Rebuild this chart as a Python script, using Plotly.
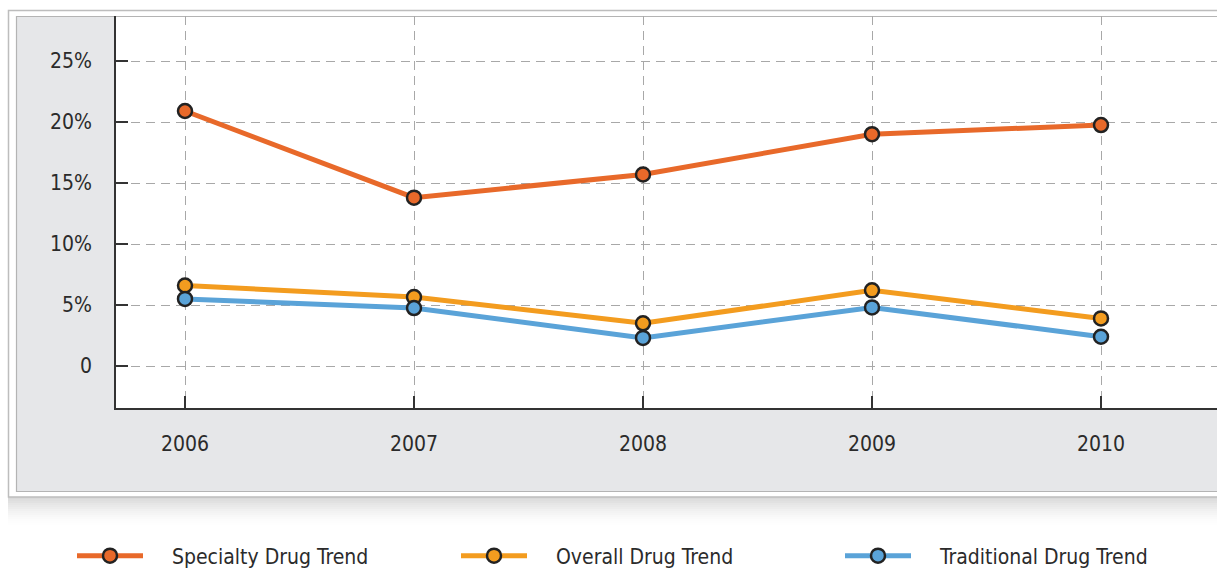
import plotly.graph_objects as go

years = [2006, 2007, 2008, 2009, 2010]
specialty = [20.9, 13.8, 15.7, 19.0, 19.75]
overall = [6.6, 5.65, 3.5, 6.2, 3.9]
traditional = [5.5, 4.75, 2.3, 4.8, 2.4]

ytick_vals = [0, 5, 10, 15, 20, 25]
ytick_text = ["0", "5%", "10%", "15%", "20%", "25%"]

W, H = 1217, 569
FONT = "Liberation Sans Narrow, DejaVu Sans Condensed, Roboto, sans-serif"

def px(x):
    return x / W

def py(y):
    return 1 - y / H

series = [
    ("Specialty Drug Trend", specialty, "#e8692a"),
    ("Overall Drug Trend", overall, "#f39c1f"),
    ("Traditional Drug Trend", traditional, "#5aa3d8"),
]

GAP = "\u00a0" * 4

fig = go.Figure()
for name, vals, col in series:
    fig.add_trace(go.Scatter(
        x=years, y=vals, name=GAP + name, mode="lines+markers",
        line=dict(color=col, width=5),
        marker=dict(size=14, color=col, line=dict(color="#222222", width=2.5)),
    ))

shapes = []
# shadow under the frame
for i in range(14):
    shapes.append(dict(type="rect", xref="paper", yref="paper",
                       x0=px(8), x1=1.0, y0=py(497 + 2 * i + 2), y1=py(497 + 2 * i),
                       fillcolor="rgba(120,120,120,%.3f)" % (0.28 * (1 - i / 14) ** 1.6),
                       line=dict(width=0), layer="below"))
# outer frame
shapes.append(dict(type="rect", xref="paper", yref="paper",
                   x0=px(8.5), x1=1.01, y0=py(497), y1=py(10.5),
                   fillcolor="white", line=dict(color="#bdbdbd", width=1.5), layer="below"))
# inner gray panel
shapes.append(dict(type="rect", xref="paper", yref="paper",
                   x0=px(16.5), x1=1.01, y0=py(491.5), y1=py(16.5),
                   fillcolor="#e6e7e9", line=dict(color="#b4b4b4", width=1.2), layer="below"))
# white plot area
shapes.append(dict(type="rect", xref="paper", yref="paper",
                   x0=px(116), x1=1.0, y0=py(408), y1=py(17),
                   fillcolor="white", line=dict(width=0), layer="below"))

fig.update_layout(
    width=W, height=H,
    margin=dict(l=0, r=0, t=0, b=0, autoexpand=False),
    paper_bgcolor="white",
    plot_bgcolor="rgba(0,0,0,0)",
    font=dict(family=FONT, size=21, color="#2b2b2b"),
    shapes=shapes,
    showlegend=True,
    legend=dict(orientation="h", x=px(72), y=py(556), xanchor="left", yanchor="middle",
                entrywidth=303, entrywidthmode="pixels", itemwidth=66,
                font=dict(family=FONT, size=21, color="#2b2b2b"),
                bgcolor="rgba(0,0,0,0)"),
    xaxis=dict(
        domain=[px(116), 1.0],
        range=[2006 - 69 / 229, 2010 + 116 / 229],
        tickvals=years, ticktext=[str(y) for y in years],
        showgrid=True, gridcolor="#a8a8a8", gridwidth=1.2, griddash="9px,6px",
        showline=True, linecolor="#333333", linewidth=1.5,
        ticks="inside", ticklen=12, tickcolor="#333333", tickwidth=1.5,
        ticklabelstandoff=16, zeroline=False, fixedrange=True,
    ),
    yaxis=dict(
        domain=[py(408), py(16)],
        range=[(366 - 408) / 12.2, (366 - 16) / 12.2],
        tickvals=ytick_vals, ticktext=ytick_text,
        showgrid=True, gridcolor="#a8a8a8", gridwidth=1.2, griddash="9px,6px",
        showline=True, linecolor="#333333", linewidth=1.5,
        ticks="inside", ticklen=12, tickcolor="#333333", tickwidth=1.5,
        ticklabelstandoff=18, zeroline=False, fixedrange=True,
    ),
)

fig.write_html("out.html")
